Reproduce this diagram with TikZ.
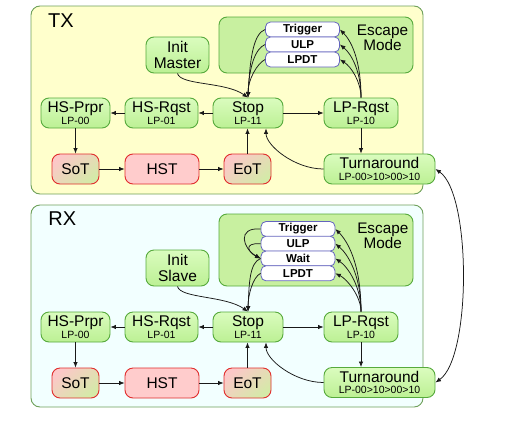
\documentclass[tikz,border=0pt]{standalone}
\usepackage{fontspec}
\setmainfont{Liberation Sans}
\usetikzlibrary{arrows.meta}
\definecolor{txbg}{RGB}{255,255,204}
\definecolor{rxbg}{RGB}{242,255,255}
\definecolor{panelline}{RGB}{110,160,90}
\definecolor{gtop}{RGB}{218,252,190}
\definecolor{gbot}{RGB}{188,240,148}
\definecolor{gline}{RGB}{86,170,60}
\definecolor{escfill}{RGB}{200,240,160}
\definecolor{rline}{RGB}{225,45,45}
\definecolor{pinkfill}{RGB}{255,204,204}
\definecolor{mixl}{RGB}{252,200,200}
\definecolor{mixr}{RGB}{212,234,168}
\definecolor{iline}{RGB}{100,100,190}
\newcommand{\lpsub}[1]{{\fontsize{10.5}{12}\selectfont #1}}
\begin{document}
\begin{tikzpicture}[x=1pt,y=-1pt,
  panel/.style={draw=panelline, line width=0.9pt, rounded corners=9pt, inner sep=0pt},
  escbox/.style={draw=gline, fill=escfill, line width=0.9pt, rounded corners=8pt, inner sep=0pt},
  gnode/.style={draw=gline, top color=gtop, bottom color=gbot, rounded corners=8pt, line width=0.9pt, minimum height=30pt, inner sep=0pt, align=center, font=\fontsize{15.5}{11.6}\selectfont},
  initnode/.style={gnode, minimum width=63pt, minimum height=36pt, font=\fontsize{15.5}{16.6}\selectfont},
  mixnode/.style={draw=rline, shading=axis, top color=mixl, bottom color=mixr, shading angle=40, rounded corners=8pt, line width=0.9pt, minimum height=30pt, minimum width=47pt, inner sep=0pt, font=\fontsize{15.5}{12}\selectfont},
  hsnode/.style={draw=rline, fill=pinkfill, rounded corners=8pt, line width=0.9pt, minimum height=30pt, minimum width=74pt, inner sep=0pt, font=\fontsize{15.5}{12}\selectfont},
  item/.style={draw=iline, fill=white, rounded corners=5pt, line width=0.8pt, minimum width=74pt, minimum height=15pt, inner sep=0pt, font=\fontsize{11.5}{12}\selectfont\bfseries},
  title/.style={font=\fontsize{20}{20}\selectfont, inner sep=0pt},
  esctext/.style={font=\fontsize{15.3}{15}\selectfont, align=center, inner sep=0pt},
  conn/.style={-{Latex[length=5.5pt,width=4.5pt]}, line width=0.75pt, draw=black!90},
  biconn/.style={{Latex[length=5.5pt,width=4.5pt]}-{Latex[length=5.5pt,width=4.5pt]}, line width=0.75pt, draw=black!90}
]
\useasboundingbox (0,0) rectangle (518,431);

% panels
\node[panel, fill=txbg, minimum width=392pt, minimum height=188pt] (txp) at (227,100) {};
\node[panel, fill=rxbg, minimum width=392pt, minimum height=202pt] (rxp) at (227,306) {};
\node[title] (txl) at (61,20.2) {TX};
\node[title] (rxl) at (62.2,218.3) {RX};

% ---------- TX ----------
\node[escbox, minimum width=194pt, minimum height=56pt] (esc1) at (316,45) {};
\node[esctext] (esct1) at (382.5,38) {Escape\\Mode};
\node[item] (trig1) at (302.5,29.5) {Trigger};
\node[item] (ulp1) at (302.5,44.5) {ULP};
\node[item] (lpdt1) at (302.5,59.5) {LPDT};

\node[initnode] (im) at (177.5,55) {Init\\Master};
\node[gnode, minimum width=69pt] (hsp1) at (75.5,113) {HS-Prpr\\\lpsub{LP-00}};
\node[gnode, minimum width=73pt] (hsr1) at (161.5,113) {HS-Rqst\\\lpsub{LP-01}};
\node[gnode, minimum width=70pt] (stop1) at (248,113) {Stop\\\lpsub{LP-11}};
\node[gnode, minimum width=74pt] (lpr1) at (361,113) {LP-Rqst\\\lpsub{LP-10}};
\node[mixnode] (sot1) at (75.5,169) {SoT};
\node[hsnode] (hst1) at (162,169) {HST};
\node[mixnode] (eot1) at (247.5,169) {EoT};
\node[gnode, minimum width=111pt] (ta1) at (379.5,169) {Turnaround\\\lpsub{LP-00>10>00>10}};

% ---------- RX ----------
\node[escbox, minimum width=194pt, minimum height=72pt] (esc2) at (316,250) {};
\node[esctext] (esct2) at (382.8,235.8) {Escape\\Mode};
\node[item] (trig2) at (298,229) {Trigger};
\node[item] (ulp2) at (298,243.7) {ULP};
\node[item] (wait2) at (298,258.5) {Wait};
\node[item] (lpdt2) at (298,273.3) {LPDT};

\node[initnode] (is) at (177.5,268) {Init\\Slave};
\node[gnode, minimum width=69pt] (hsp2) at (75.5,327) {HS-Prpr\\\lpsub{LP-00}};
\node[gnode, minimum width=73pt] (hsr2) at (161.5,327) {HS-Rqst\\\lpsub{LP-01}};
\node[gnode, minimum width=70pt] (stop2) at (248,327) {Stop\\\lpsub{LP-11}};
\node[gnode, minimum width=74pt] (lpr2) at (361,327) {LP-Rqst\\\lpsub{LP-10}};
\node[mixnode] (sot2) at (75.5,383) {SoT};
\node[hsnode] (hst2) at (162,383) {HST};
\node[mixnode] (eot2) at (247.5,383) {EoT};
\node[gnode, minimum width=111pt] (ta2) at (379.5,382.5) {Turnaround\\\lpsub{LP-00>10>00>10}};

% ---------- TX connectors ----------
\draw[conn] (stop1) -- (hsr1);
\draw[conn] (hsr1) -- (hsp1);
\draw[conn] (hsp1) -- (sot1);
\draw[conn] (sot1) -- (hst1);
\draw[conn] (hst1) -- (eot1);
\draw[conn] (eot1.north) -- (eot1.north |- stop1.south);
\draw[conn] (stop1) -- (lpr1);
\draw[conn] (lpr1.south) -- (lpr1.south |- ta1.north);
\draw[conn] (ta1.west) .. controls +(-29,0) and +(0,17) .. ([xshift=18pt]stop1.south);
\draw[conn] (im.south) .. controls +(3,12) and +(-23,-16) .. (stop1.north);
\draw[conn] (trig1.west) .. controls +(-11,4) and +(2,-42) .. (stop1.north);
\draw[conn] (ulp1.west) .. controls +(-10,4) and +(1,-30) .. (stop1.north);
\draw[conn] (lpdt1.west) .. controls +(-8,4) and +(0,-18) .. (stop1.north);
\draw[conn] (lpr1.north) .. controls +(0,-38) and +(11,11) .. (trig1.east);
\draw[conn] (lpr1.north) .. controls +(0,-27) and +(11,9) .. (ulp1.east);
\draw[conn] (lpr1.north) .. controls +(0,-16) and +(11,7) .. (lpdt1.east);

% ---------- RX connectors ----------
\draw[conn] (stop2) -- (hsr2);
\draw[conn] (hsr2) -- (hsp2);
\draw[conn] (hsp2) -- (sot2);
\draw[conn] (sot2) -- (hst2);
\draw[conn] (hst2) -- (eot2);
\draw[conn] (eot2.north) -- (eot2.north |- stop2.south);
\draw[conn] (stop2) -- (lpr2);
\draw[conn] (lpr2.south) -- (lpr2.south |- ta2.north);
\draw[conn] (ta2.west) .. controls +(-29,0) and +(0,17) .. ([xshift=18pt]stop2.south);
\draw[conn] (is.south) .. controls +(3,12) and +(-23,-16) .. (stop2.north);
\draw[conn] (trig2.west) .. controls +(-24,-2) and +(-18,-10) .. (wait2.west);
\draw[conn] (ulp2.west) .. controls +(-18,-1) and +(-12,-6) .. (wait2.west);
\draw[conn] (wait2.west) .. controls +(-11,4) and +(1,-28) .. (stop2.north);
\draw[conn] (lpdt2.west) .. controls +(-8,4) and +(0,-16) .. (stop2.north);
\draw[conn] (lpr2.north) .. controls +(0,-48) and +(12,12) .. (trig2.east);
\draw[conn] (lpr2.north) .. controls +(0,-37) and +(12,10) .. (ulp2.east);
\draw[conn] (lpr2.north) .. controls +(0,-26) and +(12,8) .. (wait2.east);
\draw[conn] (lpr2.north) .. controls +(0,-15) and +(12,6) .. (lpdt2.east);

% TX <-> RX turnaround
\draw[biconn] (ta1.east) .. controls +(36,25) and +(36,-25) .. (ta2.east);
\end{tikzpicture}
\end{document}
